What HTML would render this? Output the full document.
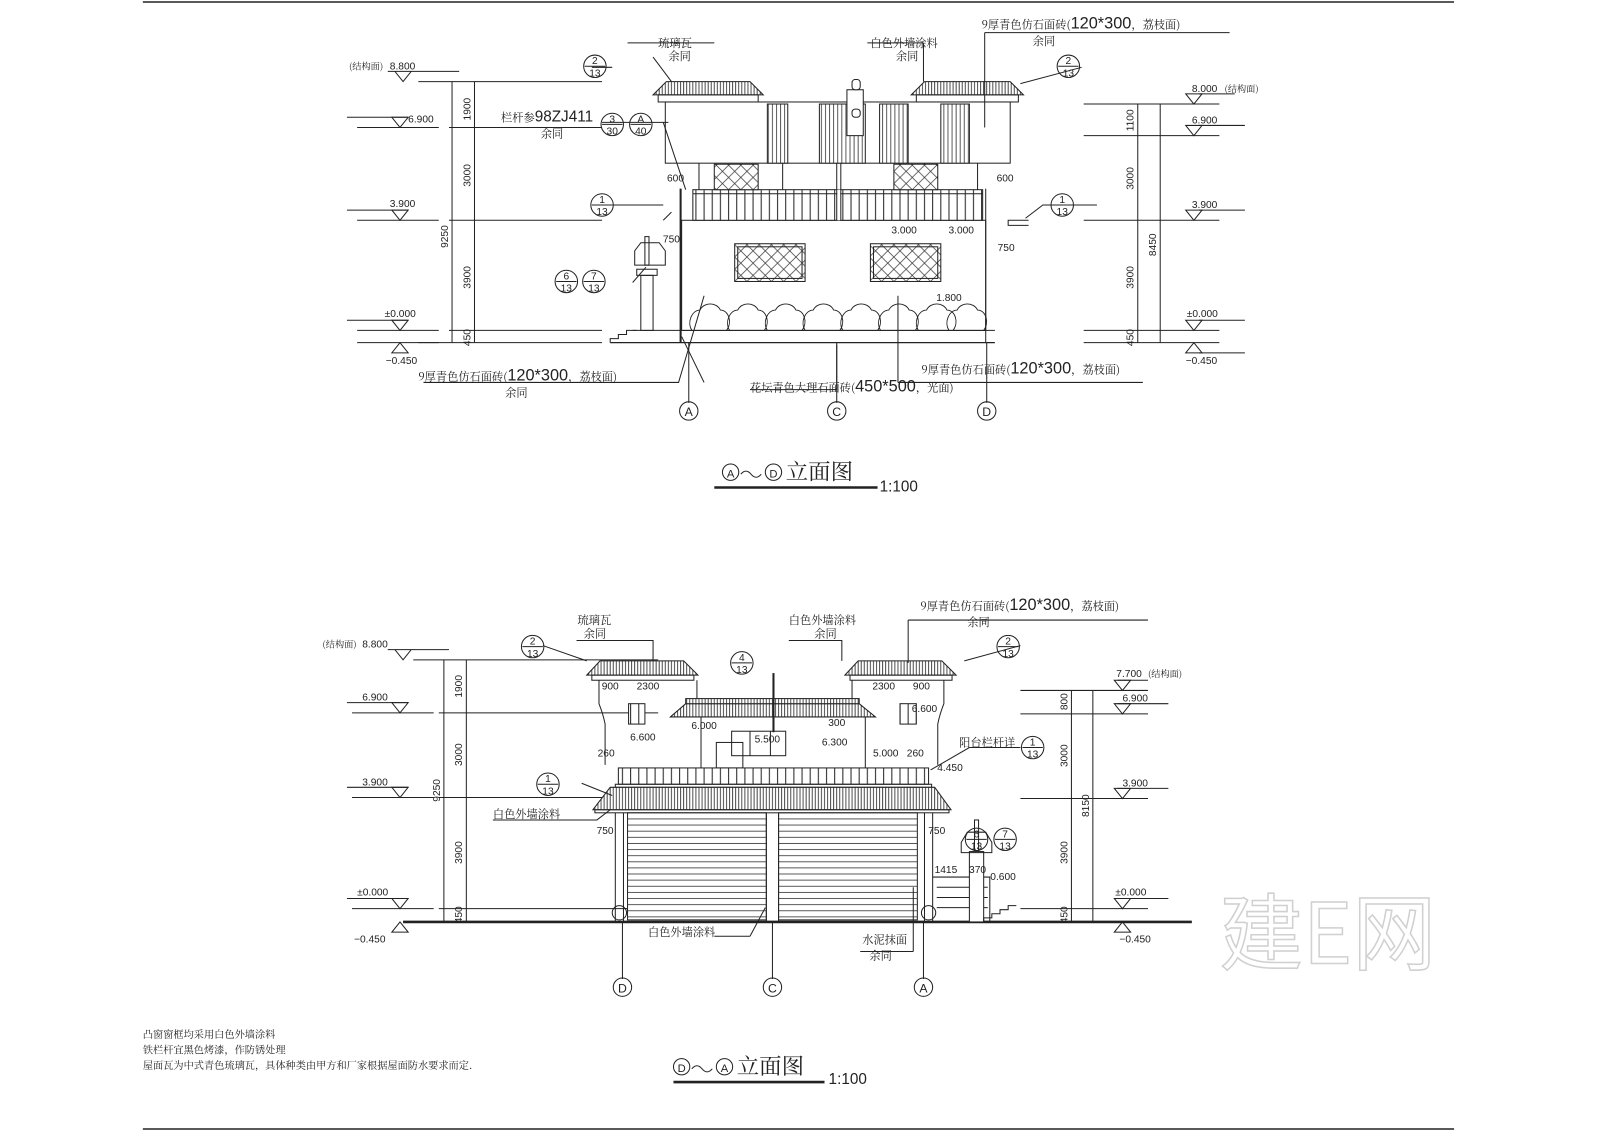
<!DOCTYPE html>
<html><head><meta charset="utf-8"><style>
html,body{margin:0;padding:0;background:#fff;width:1600px;height:1131px;overflow:hidden}
svg{display:block}
text{font-family:"Liberation Sans","Noto Sans CJK SC",sans-serif;fill:#222}
.c{font-family:"Noto Serif CJK SC","Noto Sans CJK SC",serif}
</style></head><body>
<svg width="1600" height="1131" viewBox="0 0 1568 1109" preserveAspectRatio="none" xmlns="http://www.w3.org/2000/svg">
<defs>
<pattern id="rf" width="3" height="10" patternUnits="userSpaceOnUse"><rect width="3" height="10" fill="#fff"/><line x1="1" y1="0" x2="1" y2="10" stroke="#222" stroke-width="0.8"/></pattern>
<pattern id="rl" width="8" height="10" patternUnits="userSpaceOnUse"><rect width="8" height="10" fill="#fff"/><line x1="2" y1="0" x2="2" y2="10" stroke="#222" stroke-width="1"/></pattern>
<pattern id="dr" width="10" height="6" patternUnits="userSpaceOnUse"><rect width="10" height="6" fill="#fff"/><line x1="0" y1="5" x2="10" y2="5" stroke="#333" stroke-width="0.8"/></pattern>
<pattern id="fl" width="4" height="10" patternUnits="userSpaceOnUse"><rect width="4" height="10" fill="#fff"/><line x1="1" y1="0" x2="1" y2="10" stroke="#333" stroke-width="0.8"/></pattern>
<pattern id="lt" width="12" height="12" patternUnits="userSpaceOnUse"><rect width="12" height="12" fill="#fff"/><path d="M0 0L12 12M12 0L0 12" stroke="#333" stroke-width="0.7"/></pattern>
</defs>
<g stroke="#222" fill="none" stroke-width="1">
<line x1="140" y1="2" x2="1425" y2="2" stroke-width="1.5"/>
<line x1="140" y1="1107" x2="1425" y2="1107" stroke-width="1.5"/>

<!-- ========== TOP ELEVATION ========== -->
<line x1="443" y1="80" x2="443" y2="336"/><line x1="465" y1="80" x2="465" y2="336"/>
<path d="M410 80H590M440 125H590M440 216H590M440 324H590M410 336H590"/>
<path d="M350 125H430M350 216H430M350 324H430M350 336H430"/>
<path d="M380 70H450M395 80l8 -10h-16z"/>
<path d="M392 125l8-10h-16zM392 216l8-10h-16zM392 324l8-10h-16zM392 336l8 10h-16z"/>
<path d="M340 115h60M340 206h60M340 314h60"/>
<line x1="1115" y1="102" x2="1115" y2="336"/><line x1="1137" y1="102" x2="1137" y2="336"/>
<path d="M1062 102H1195M1062 133H1195M1062 216H1195M1062 324H1195M1062 336H1195"/>
<path d="M1170 102l8-10h-16zM1170 133l8-10h-16zM1170 216l8-10h-16zM1170 324l8-10h-16zM1170 336l8 10h-16z"/>
<path d="M1175 92H1210M1175 123H1220M1175 206H1220M1175 314H1220M1175 346H1220"/>
<path d="M598 336H975" stroke-width="1.2"/>
<path d="M620 324H975"/>
<rect x="668" y="216" width="298" height="108"/>
<line x1="667" y1="185" x2="667" y2="336" stroke-width="2"/>
<line x1="966" y1="185" x2="966" y2="336"/>
<rect x="679" y="186" width="284" height="30" fill="url(#rl)"/>
<line x1="679" y1="190" x2="963" y2="190"/>
<line x1="822" y1="186" x2="822" y2="216" stroke-width="3" stroke="#fff"/>
<line x1="820" y1="160" x2="820" y2="216"/><line x1="824" y1="160" x2="824" y2="216"/>
<path d="M685 160V186M958 160V186M767 160V186M906 160V186"/>
<rect x="700" y="161" width="43" height="25" fill="url(#lt)"/>
<rect x="876" y="161" width="43" height="25" fill="url(#lt)"/>
<rect x="652" y="100" width="338" height="60"/>
<rect x="752" y="102" width="20" height="58" fill="url(#fl)"/>
<rect x="803" y="102" width="45" height="58" fill="url(#fl)"/>
<rect x="862" y="102" width="28" height="58" fill="url(#fl)"/>
<rect x="922" y="102" width="28" height="58" fill="url(#fl)"/>
<rect x="830" y="88" width="16" height="45" fill="#fff"/>
<rect x="835" y="78" width="8" height="10" rx="3" fill="#fff"/>
<rect x="835" y="107" width="8" height="8" rx="3"/>
<path d="M640 93L653 80H735L748 93Z" fill="url(#rf)"/>
<rect x="645" y="93" width="98" height="7"/>
<path d="M893 93L906 80H990L1003 93Z" fill="url(#rf)"/>
<rect x="898" y="93" width="100" height="7"/>
<rect x="720" y="239" width="69" height="37" fill="url(#lt)"/><rect x="723" y="242" width="63" height="31"/>
<rect x="853" y="239" width="69" height="37" fill="url(#lt)"/><rect x="856" y="242" width="63" height="31"/>
<g stroke-width="0.9">
<path d="M678 324c-5-8 0-20 8-20c4-8 16-8 20 0c8 0 12 12 6 20"/>
<path d="M715 324c-5-8 0-20 8-20c4-8 16-8 20 0c8 0 12 12 6 20"/>
<path d="M752 324c-5-8 0-20 8-20c4-8 16-8 20 0c8 0 12 12 6 20"/>
<path d="M789 324c-5-8 0-20 8-20c4-8 16-8 20 0c8 0 12 12 6 20"/>
<path d="M826 324c-5-8 0-20 8-20c4-8 16-8 20 0c8 0 12 12 6 20"/>
<path d="M863 324c-5-8 0-20 8-20c4-8 16-8 20 0c8 0 12 12 6 20"/>
<path d="M900 324c-5-8 0-20 8-20c4-8 16-8 20 0c8 0 12 12 6 20"/>
<path d="M930 324c-5-8 0-20 8-20c4-8 16-8 20 0c8 0 12 12 6 20"/>
</g>
<path d="M622 246l6-8h18l6 8v14h-30z"/><rect x="632" y="232" width="4" height="28"/>
<rect x="628" y="270" width="12" height="54"/><rect x="624" y="264" width="20" height="6"/>
<path d="M598 336v-4h8v-4h8v-4h10"/>
<path d="M1008 216h-20v5h20"/>
<path d="M650 216l8-8"/>
<path d="M675 336V395M820 336V395M967 336V395"/>
<circle cx="675" cy="403" r="9"/><circle cx="820" cy="403" r="9"/><circle cx="967" cy="403" r="9"/>
<path d="M615 42H700M640 56L658 80M850 42H905M905 42V80M965 32V125M965 32H1205M1060 66L1000 82M600 66H580M650 120L672 186M600 201H650M1075 201H1022L1005 214M620 277L633 262M415 375H665L690 290M690 375L668 330M735 382H820V338M880 375H1120M880 375V290"/>
<line x1="655" y1="120" x2="590" y2="120"/>
<path d="M700 478H860" stroke-width="2.5"/>
</g>
<g font-size="10">
<text x="342" y="68" class="c" font-size="9">(结构面)</text>
<text x="382" y="68">8.800</text>
<text x="400" y="120">6.900</text><text x="382" y="203">3.900</text><text x="377" y="311">±0.000</text><text x="378" y="357">−0.450</text>
<text x="1168" y="90">8.000</text><text x="1200" y="90" class="c" font-size="9">(结构面)</text>
<text x="1168" y="121">6.900</text><text x="1168" y="204">3.900</text><text x="1163" y="311">±0.000</text><text x="1162" y="357">−0.450</text>
</g>
<g font-size="10" text-anchor="middle">
<text transform="translate(461,107) rotate(-90)">1900</text>
<text transform="translate(461,172) rotate(-90)">3000</text>
<text transform="translate(461,272) rotate(-90)">3900</text>
<text transform="translate(461,331) rotate(-90)">450</text>
<text transform="translate(439,232) rotate(-90)">9250</text>
<text transform="translate(1111,118) rotate(-90)">1100</text>
<text transform="translate(1111,175) rotate(-90)">3000</text>
<text transform="translate(1111,272) rotate(-90)">3900</text>
<text transform="translate(1111,331) rotate(-90)">450</text>
<text transform="translate(1133,240) rotate(-90)">8450</text>
<text x="662" y="178">600</text><text x="985" y="178">600</text>
<text x="658" y="238">750</text><text x="986" y="246">750</text>
<text x="886" y="229">3.000</text><text x="942" y="229">3.000</text><text x="930" y="295">1.800</text>
<text x="675" y="408" font-size="12">A</text><text x="820" y="408" font-size="12">C</text><text x="967" y="408" font-size="12">D</text>
</g>
<g class="c" font-size="11">
<text x="645" y="46" class="c">琉璃瓦</text><text x="655" y="59" class="c">余同</text>
<text x="853" y="46" class="c">白色外墙涂料</text><text x="878" y="59" class="c">余同</text>
<text x="962" y="28" class="c">9厚青色仿石面砖(<tspan font-size="16" font-family="Liberation Sans">120*300</tspan>，荔枝面)</text>
<text x="1012" y="44" class="c">余同</text>
<text x="491" y="119" class="c">栏杆参<tspan font-size="15" font-family="Liberation Sans">98ZJ411</tspan></text><text x="530" y="135" class="c">余同</text>
<text x="410" y="373" class="c">9厚青色仿石面砖(<tspan font-size="16" font-family="Liberation Sans">120*300</tspan>，荔枝面)</text><text x="495" y="389" class="c">余同</text>
<text x="735" y="384" class="c">花坛青色大理石面砖(<tspan font-size="16" font-family="Liberation Sans">450*500</tspan>，光面)</text>
<text x="903" y="366" class="c">9厚青色仿石面砖(<tspan font-size="16" font-family="Liberation Sans">120*300</tspan>，荔枝面)</text>
<text x="770" y="470" font-size="22" class="c">立面图</text>
</g>
<text x="862" y="482" font-size="15" font-family="Liberation Serif">1:100</text>
<g stroke="#222" fill="none"><circle cx="716" cy="463" r="8"/><circle cx="758" cy="463" r="8"/><path d="M726 465q5-6 10 0t10 0"/></g>
<text x="716" y="468" font-size="11" text-anchor="middle">A</text><text x="758" y="468" font-size="11" text-anchor="middle">D</text>
<g stroke="#222" fill="none">
<circle cx="583" cy="65" r="11"/><circle cx="1047" cy="65" r="11"/><circle cx="600" cy="122" r="11"/><circle cx="628" cy="122" r="11"/>
<circle cx="590" cy="201" r="11"/><circle cx="1041" cy="201" r="11"/><circle cx="555" cy="276" r="11"/><circle cx="582" cy="276" r="11"/>
<path d="M573 65h20M1037 65h20M590 122h20M618 122h20M580 201h20M1031 201h20M545 276h20M572 276h20"/>
</g>
<g font-size="10" text-anchor="middle" font-family="Liberation Serif">
<text x="583" y="63">2</text><text x="583" y="75">13</text><text x="1047" y="63">2</text><text x="1047" y="75">13</text>
<text x="600" y="120">3</text><text x="600" y="132">30</text><text x="628" y="120">A</text><text x="628" y="132">40</text>
<text x="590" y="199">1</text><text x="590" y="211">13</text><text x="1041" y="199">1</text><text x="1041" y="211">13</text>
<text x="555" y="274">6</text><text x="555" y="286">13</text><text x="582" y="274">7</text><text x="582" y="286">13</text>
</g>

<!-- ========== BOTTOM ELEVATION ========== -->
<g stroke="#222" fill="none" stroke-width="1">
<line x1="435" y1="647" x2="435" y2="904"/><line x1="457" y1="647" x2="457" y2="904"/>
<path d="M405 647H645M430 699H645M430 782H645M430 891H645"/>
<path d="M345 699H425M345 782H425M345 891H425"/>
<path d="M380 637H440M395 647l8-10h-16zM392 699l8-10h-16zM392 782l8-10h-16zM392 891l8-10h-16zM392 904l8 10h-16z"/>
<path d="M340 689h60M340 772h60M340 881h60"/>
<path d="M395 904H1168" stroke-width="2.5"/>
<line x1="1050" y1="677" x2="1050" y2="904"/><line x1="1071" y1="677" x2="1071" y2="904"/>
<path d="M1000 677H1125M1000 700H1125M1000 783H1125M1000 891H1125"/>
<path d="M1100 677l8-10h-16zM1100 700l8-10h-16zM1100 783l8-10h-16zM1100 891l8-10h-16zM1100 904l8 10h-16z"/>
<path d="M1095 667H1125M1095 690H1145M1095 773H1145M1095 881H1145"/>
<path d="M575 662L588 648H670L684 662Z" fill="url(#rf)"/><rect x="580" y="662" width="100" height="5"/>
<path d="M828 662L841 648H923L937 662Z" fill="url(#rf)"/><rect x="833" y="662" width="100" height="5"/>
<path d="M587 667V690q4 10 6 20V750M683 667V690M835 667V690M925 667V690q-4 10 -6 20V750"/>
<rect x="616" y="690" width="16" height="20" fill="url(#rl)"/><rect x="882" y="690" width="16" height="20" fill="url(#rl)"/>
<path d="M657 703L672 690H842L858 703Z" fill="url(#rf)"/><rect x="672" y="685" width="170" height="5" fill="url(#rf)"/>
<line x1="758" y1="660" x2="758" y2="718" stroke-width="2"/>
<path d="M687 703V753M848 703V753"/>
<rect x="717" y="717" width="53" height="24"/><path d="M735 717v24M755 717v24"/>
<rect x="702" y="728" width="26" height="25"/>
<rect x="606" y="753" width="304" height="16" fill="url(#rl)"/>
<rect x="603" y="769" width="310" height="3"/>
<path d="M581 794L598 772H916L932 794Z" fill="url(#rf)"/>
<rect x="583" y="794" width="347" height="3"/>
<path d="M603 797V904M611 797V904M906 797V904M914 797V904"/>
<rect x="615" y="797" width="136" height="105" fill="url(#dr)"/>
<rect x="763" y="797" width="136" height="105" fill="url(#dr)"/>
<path d="M751 797V904M763 797V904"/>
<circle cx="607" cy="895" r="7"/><circle cx="910" cy="895" r="7"/>
<path d="M914 860H970V904M918 870h50M918 880h50M918 890h50"/>
<rect x="950" y="835" width="14" height="69" fill="#fff"/>
<path d="M942 826l6-10h18l6 10v10h-30z"/><rect x="955" y="804" width="4" height="30"/>
<path d="M964 904v-4h8v-4h8v-4h8v-4h8"/>
<path d="M610 904V960M757 904V960M905 904V960"/>
<circle cx="610" cy="968" r="9"/><circle cx="757" cy="968" r="9"/><circle cx="905" cy="968" r="9"/>
<path d="M565 628H640L640 648M773 628H825V648M890 608H1125M890 608V650M1000 633L945 648M532 633L575 648M570 768L600 780M483 804H585L598 794M735 918H700M735 918L750 890M843 933H895M895 933V870M1000 733H950L912 755"/>
<path d="M660 1061H808" stroke-width="2.5"/>
</g>
<g font-size="10">
<text x="316" y="635" class="c" font-size="9">(结构面)</text><text x="355" y="635">8.800</text>
<text x="355" y="687">6.900</text><text x="355" y="770">3.900</text><text x="350" y="878">±0.000</text><text x="347" y="924">−0.450</text>
<text x="1094" y="664">7.700</text><text x="1125" y="664" class="c" font-size="9">(结构面)</text>
<text x="1100" y="688">6.900</text><text x="1100" y="771">3.900</text><text x="1093" y="878">±0.000</text><text x="1097" y="924">−0.450</text>
</g>
<g font-size="10" text-anchor="middle">
<text transform="translate(453,673) rotate(-90)">1900</text>
<text transform="translate(453,740) rotate(-90)">3000</text>
<text transform="translate(453,836) rotate(-90)">3900</text>
<text transform="translate(453,897) rotate(-90)">450</text>
<text transform="translate(431,775) rotate(-90)">9250</text>
<text transform="translate(1046,688) rotate(-90)">800</text>
<text transform="translate(1046,741) rotate(-90)">3000</text>
<text transform="translate(1046,836) rotate(-90)">3900</text>
<text transform="translate(1046,897) rotate(-90)">450</text>
<text transform="translate(1067,790) rotate(-90)">8150</text>
<text x="598" y="676">900</text><text x="635" y="676">2300</text><text x="866" y="676">2300</text><text x="903" y="676">900</text>
<text x="690" y="715">6.000</text><text x="752" y="728">5.500</text><text x="818" y="731">6.300</text><text x="868" y="742">5.000</text>
<text x="630" y="726">6.600</text><text x="906" y="698">6.600</text><text x="820" y="712">300</text>
<text x="594" y="742">260</text><text x="897" y="742">260</text><text x="931" y="756">4.450</text>
<text x="593" y="818">750</text><text x="918" y="818">750</text>
<text x="927" y="856">1415</text><text x="958" y="856">370</text><text x="983" y="863">0.600</text>
<text x="610" y="973" font-size="12">D</text><text x="757" y="973" font-size="12">C</text><text x="905" y="973" font-size="12">A</text>
</g>
<g class="c" font-size="11">
<text x="566" y="612" class="c">琉璃瓦</text><text x="572" y="625" class="c">余同</text>
<text x="773" y="612" class="c">白色外墙涂料</text><text x="798" y="625" class="c">余同</text>
<text x="902" y="598" class="c">9厚青色仿石面砖(<tspan font-size="16" font-family="Liberation Sans">120*300</tspan>，荔枝面)</text><text x="948" y="614" class="c">余同</text>
<text x="940" y="732" class="c">阳台栏杆详</text>
<text x="483" y="802" class="c">白色外墙涂料</text>
<text x="635" y="918" class="c">白色外墙涂料</text>
<text x="845" y="925" class="c">水泥抹面</text><text x="852" y="941" class="c">余同</text>
<text x="140" y="1018" class="c" font-size="10">凸窗窗框均采用白色外墙涂料</text>
<text x="140" y="1033" class="c" font-size="10">铁栏杆宜黑色烤漆，作防锈处理</text>
<text x="140" y="1048" class="c" font-size="10">屋面瓦为中式青色琉璃瓦，具体种类由甲方和厂家根据屋面防水要求而定.</text>
<text x="722" y="1053" font-size="22" class="c">立面图</text>
</g>
<text x="812" y="1063" font-size="15" font-family="Liberation Serif">1:100</text>
<g stroke="#222" fill="none"><circle cx="668" cy="1046" r="8"/><circle cx="710" cy="1046" r="8"/><path d="M678 1048q5-6 10 0t10 0"/></g>
<text x="668" y="1051" font-size="11" text-anchor="middle">D</text><text x="710" y="1051" font-size="11" text-anchor="middle">A</text>
<g stroke="#222" fill="none">
<circle cx="522" cy="634" r="11"/><circle cx="988" cy="634" r="11"/><circle cx="727" cy="650" r="11"/>
<circle cx="537" cy="769" r="11"/><circle cx="1012" cy="733" r="11"/><circle cx="957" cy="823" r="11"/><circle cx="985" cy="823" r="11"/>
<path d="M512 634h20M978 634h20M717 650h20M527 769h20M1002 733h20M947 823h20M975 823h20"/>
</g>
<g font-size="10" text-anchor="middle" font-family="Liberation Serif">
<text x="522" y="632">2</text><text x="522" y="644">13</text><text x="988" y="632">2</text><text x="988" y="644">13</text>
<text x="727" y="648">4</text><text x="727" y="660">13</text><text x="537" y="767">1</text><text x="537" y="779">13</text>
<text x="1012" y="731">1</text><text x="1012" y="743">13</text><text x="957" y="821">6</text><text x="957" y="833">13</text>
<text x="985" y="821">7</text><text x="985" y="833">13</text>
</g>
<text x="1195" y="945" font-size="82" style="fill:#fff;stroke:#d0d0d0;stroke-width:1.5;font-family:'Noto Sans CJK SC',sans-serif">建E网</text>
</svg>
</body></html>
